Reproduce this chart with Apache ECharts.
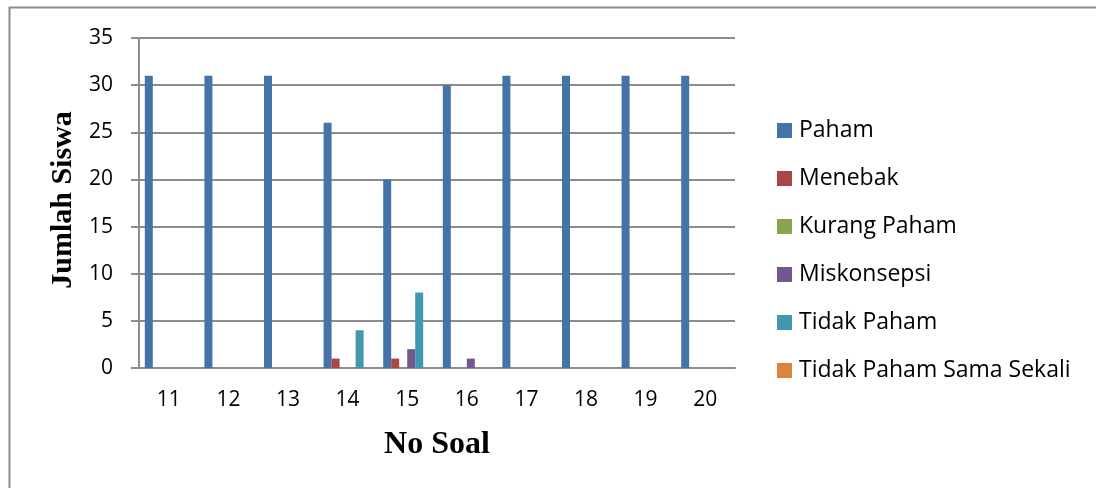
<!DOCTYPE html>
<html>
<head>
<meta charset="utf-8">
<script src="https://cdn.jsdelivr.net/npm/echarts@6/dist/echarts.min.js"></script>
<style>
  html, body { margin: 0; padding: 0; background: #fff; }
  #chart { width: 1096px; height: 488px; }
</style>
</head>
<body>
<div id="chart"></div>
<script>
// Question numbers (x axis)
const categories = ['11', '12', '13', '14', '15', '16', '17', '18', '19', '20'];

// Number of students per understanding level
const paham            = [31, 31, 31, 26, 20, 30, 31, 31, 31, 31];
const menebak          = [0, 0, 0, 1, 1, 0, 0, 0, 0, 0];
const kurangPaham      = [0, 0, 0, 0, 0, 0, 0, 0, 0, 0];
const miskonsepsi      = [0, 0, 0, 0, 2, 1, 0, 0, 0, 0];
const tidakPaham       = [0, 0, 0, 4, 8, 0, 0, 0, 0, 0];
const tidakPahamSekali = [0, 0, 0, 0, 0, 0, 0, 0, 0, 0];

const seriesNames = ['Paham', 'Menebak', 'Kurang Paham', 'Miskonsepsi', 'Tidak Paham', 'Tidak Paham Sama Sekali'];
const seriesData  = [paham, menebak, kurangPaham, miskonsepsi, tidakPaham, tidakPahamSekali];
const colors = ['#4572A7', '#AA4643', '#89A54E', '#71588F', '#4198AF', '#DB843D'];

const labelFont = '"Open Sans", "Noto Sans", sans-serif';
const titleFont = '"Liberation Serif", "DejaVu Serif", serif';

const chart = echarts.init(document.getElementById('chart'), null, { renderer: 'canvas' });

chart.setOption({
  animation: false,
  backgroundColor: '#ffffff',
  color: colors,
  grid: { left: 139, right: 361, top: 38, bottom: 120, containLabel: false },
  legend: {
    orient: 'vertical',
    left: 777,
    top: 119,
    padding: 0,
    itemWidth: 15,
    itemHeight: 15,
    itemGap: 25,
    icon: 'rect',
    textStyle: { fontFamily: labelFont, fontSize: 23, color: '#000', padding: [0, 0, 0, 2] },
    data: seriesNames
  },
  xAxis: {
    type: 'category',
    data: categories,
    axisLine: { lineStyle: { color: '#8c8c8c', width: 2 } },
    axisTick: { show: false },
    axisLabel: { margin: 22, fontFamily: labelFont, fontSize: 21, color: '#000' }
  },
  yAxis: {
    type: 'value',
    min: 0,
    max: 35,
    interval: 5,
    axisLine: { show: true, lineStyle: { color: '#8c8c8c', width: 2 } },
    axisTick: { show: true, inside: false, length: 8, lineStyle: { color: '#8c8c8c', width: 2 } },
    splitLine: { lineStyle: { color: '#8c8c8c', width: 2 } },
    axisLabel: { margin: 26, fontFamily: labelFont, fontSize: 21, color: '#000' }
  },
  series: seriesNames.map((name, i) => ({
    name: name,
    type: 'bar',
    data: seriesData[i],
    barWidth: 8,
    barGap: '0%',
    itemStyle: { color: colors[i] }
  })),
  graphic: [
    {
      type: 'rect',
      shape: { x: 9.5, y: 7.5, width: 1200, height: 600 },
      style: { fill: null, stroke: '#8c8c8c', lineWidth: 2 },
      silent: true
    },
    {
      type: 'text',
      x: 63, y: 200,
      rotation: Math.PI / 2,
      style: {
        text: 'Jumlah Siswa',
        font: 'bold 30px ' + titleFont,
        fill: '#000',
        align: 'center',
        verticalAlign: 'middle'
      }
    },
    {
      type: 'text',
      x: 437, y: 445,
      style: {
        text: 'No Soal',
        font: 'bold 32px ' + titleFont,
        fill: '#000',
        align: 'center',
        verticalAlign: 'middle'
      }
    }
  ]
});
</script>
</body>
</html>
